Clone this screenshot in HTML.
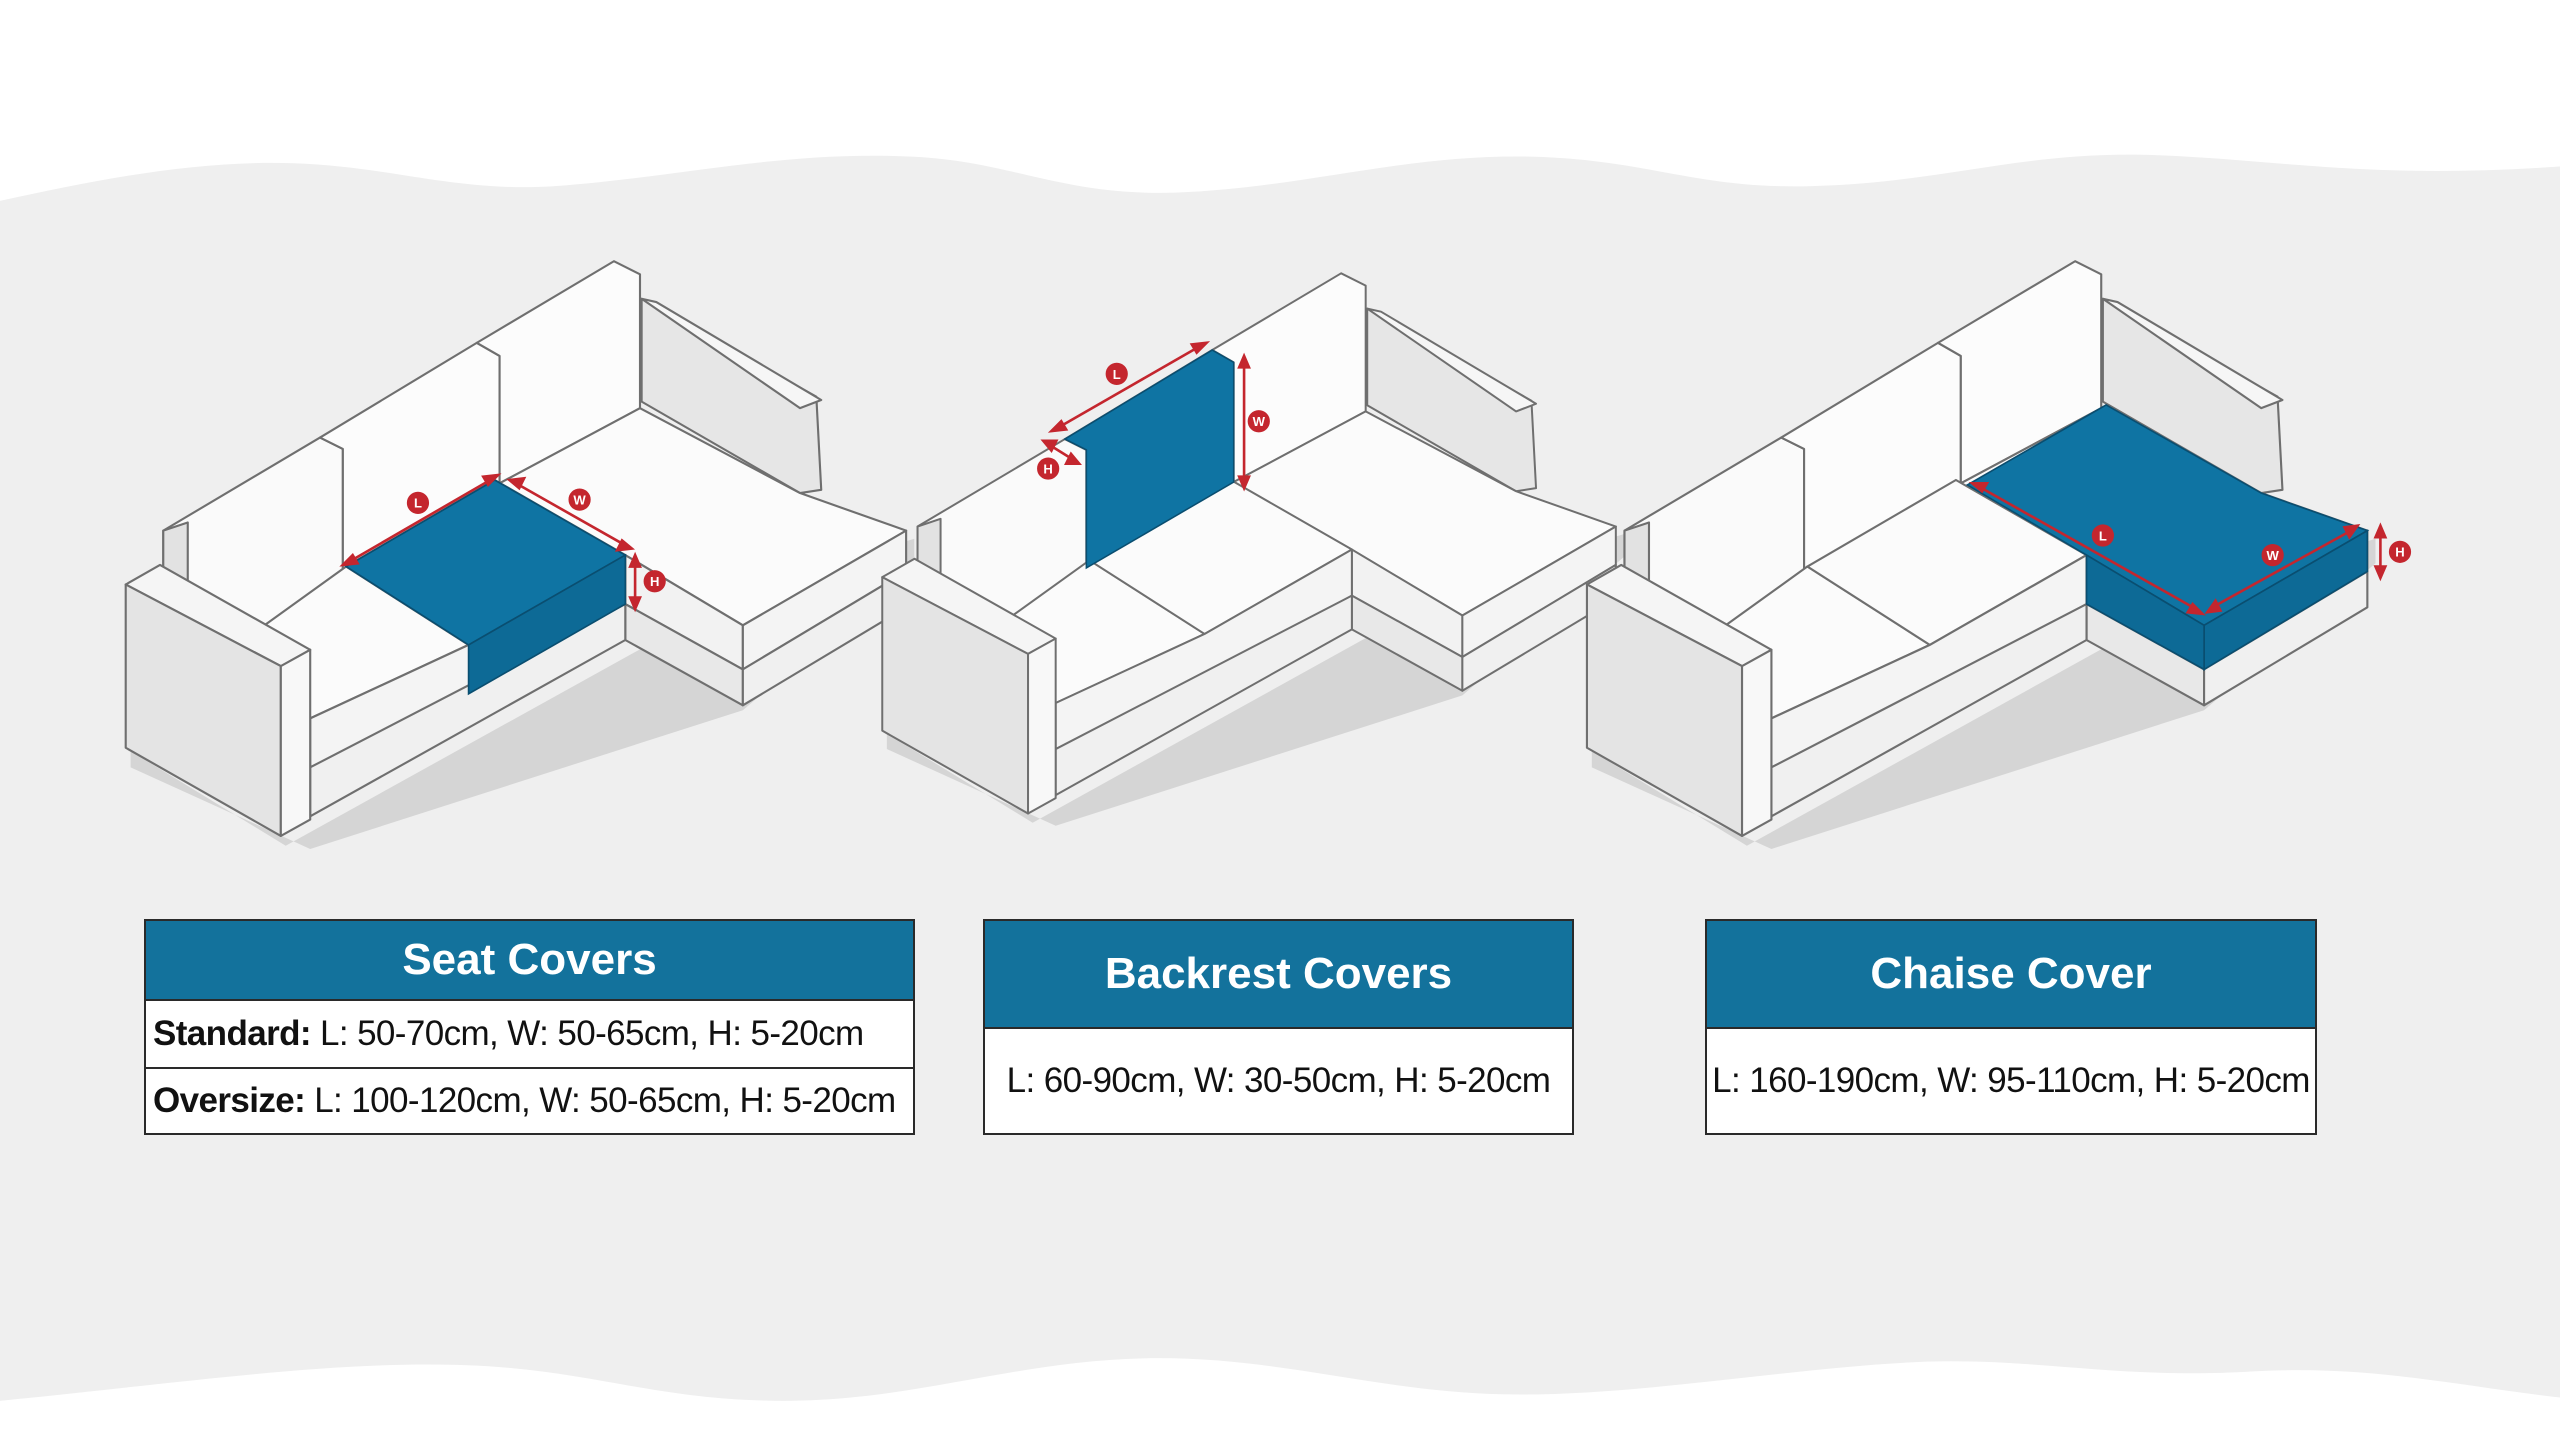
<!DOCTYPE html>
<html><head><meta charset="utf-8">
<style>
html,body{margin:0;padding:0;background:#fff;}
body{width:2560px;height:1440px;position:relative;overflow:hidden;font-family:"Liberation Sans",sans-serif;}
svg.bg{position:absolute;left:0;top:0;}
.t{position:absolute;border:2px solid #2a2a2a;background:#fff;box-sizing:border-box;}
.t .h{background:#13729c;color:#fff;font-weight:bold;font-size:44px;display:flex;align-items:center;justify-content:center;border-bottom:2px solid #2a2a2a;box-sizing:border-box;}
.t .r{font-size:35px;color:#111;display:flex;align-items:center;box-sizing:border-box;white-space:nowrap;letter-spacing:-0.6px;}
.t .r b{margin-right:9px;}
</style></head><body>
<svg class="bg" width="2560" height="1440" viewBox="0 0 1568 882">
<defs>
<g id="sofa" stroke="#6f6f6f" stroke-width="1.3" stroke-linejoin="round">
  <polygon points="80,460 175,518 460,360 560,330 560,345 455,435 190,520 80,470" fill="#d5d5d5" stroke="none"/>
  <polygon points="100,325 196,268 210,275 210,355 155,388 115,368 100,355" fill="#fafafa"/>
  <polygon points="100,325 115,320 115,365 100,355" fill="#e2e2e2"/>
  <polygon points="196,268 292,210 306,218 306,296 210,352 210,275" fill="#fcfcfc"/>
  <polygon points="292,210 376,160 392,168 392,250 306,296 306,218" fill="#fcfcfc"/>
  <polygon points="393,183 500,243 503,300 490,302 393,246" fill="#e6e6e6"/>
  <polygon points="393,183 402,185 503,245 490,250" fill="#f6f6f6"/>
  <polygon points="306,296 392,250 490,302 555,325 455,383 383,340" fill="#fbfbfb"/>
  <polygon points="383,340 455,383 455,410 383,370" fill="#f2f2f2"/>
  <polygon points="455,383 555,325 555,350 455,410" fill="#f4f4f4"/>
  <polygon points="383,370 455,410 455,432 383,392" fill="#e8e8e8"/>
  <polygon points="455,410 555,350 555,372 455,432" fill="#f0f0f0"/>
  <polygon points="155,388 212,347 287,395 190,440" fill="#fbfbfb"/>
  <polygon points="212,347 303,294 383,340 287,395" fill="#fbfbfb"/>
  <polygon points="190,440 287,395 383,340 383,370 287,425 190,470" fill="#f4f4f4"/>
  <polygon points="190,470 383,370 383,392 190,500" fill="#f0f0f0"/>
  <polygon points="77,358 98,346 190,398 172,408" fill="#f5f5f5"/>
  <polygon points="77,358 172,408 172,512 77,458" fill="#e4e4e4"/>
  <polygon points="172,408 190,398 190,502 172,512" fill="#f8f8f8"/>
</g>
</defs>
<path d="M0,123 C60,110 120,98 180,100 C240,102 280,118 340,114 C420,108 480,92 560,96 C620,99 650,120 720,118 C800,115 860,94 940,96 C1010,98 1040,116 1110,114 C1190,112 1240,92 1320,95 C1400,98 1450,110 1568,102 L1568,856 C1500,848 1450,836 1380,840 C1300,845 1250,832 1180,834 C1100,837 1000,856 920,854 C840,852 780,830 700,832 C620,834 560,858 480,858 C400,858 360,838 280,836 C200,834 120,846 0,858 Z" fill="#efefef"/>

<g>
  <use href="#sofa"/>
  <polygon points="212,347 303,294 383,340 287,395" fill="#0f74a3" stroke="#0a4e70" stroke-width="1"/>
  <polygon points="287,395 383,340 383,370 287,425" fill="#0d6a96" stroke="#0a4e70" stroke-width="1"/>
  <g stroke="#c4262e" stroke-width="1.6" fill="#c4262e">
    <line x1="214" y1="344" x2="302" y2="293"/>
    <line x1="316" y1="296" x2="383" y2="334"/>
    <line x1="389" y1="344" x2="389" y2="369"/>
    <polygon points="210,346 219,345 216,340"/><polygon points="305,291 296,292 299,297"/>
    <polygon points="312,294 321,293 318,299"/><polygon points="387,336 378,337 381,331"/>
    <polygon points="389,340 386,347 392,347"/><polygon points="389,373 386,366 392,366"/>
    <circle cx="256" cy="308" r="6"/><circle cx="355" cy="306" r="6"/><circle cx="401" cy="356" r="6"/>
  </g>
  <g fill="#fff" font-size="8" font-weight="bold" text-anchor="middle" font-family="Liberation Sans">
    <text x="256" y="311">L</text><text x="355" y="309">W</text><text x="401" y="359">H</text></g>
</g>

<g transform="translate(468,17) scale(0.94)">
  <use href="#sofa"/>
  <polygon points="196,268 292,210 306,218 306,296 210,352 210,275" fill="#0f74a3" stroke="#0a4e70" stroke-width="1"/>
</g>
<g stroke="#c4262e" stroke-width="1.6" fill="#c4262e">
  <line x1="648" y1="262" x2="735" y2="212"/>
  <line x1="762" y1="222" x2="762" y2="295"/>
  <line x1="642" y1="272" x2="658" y2="282"/>
  <polygon points="644,264 653,263 650,258"/><polygon points="739,210 730,211 733,216"/>
  <polygon points="762,218 759,225 765,225"/><polygon points="762,299 759,292 765,292"/>
  <polygon points="639,270 647,270 644,276"/><polygon points="661,284 653,284 656,278"/>
  <circle cx="684" cy="229" r="6"/><circle cx="771" cy="258" r="6"/><circle cx="642" cy="287" r="6"/>
</g>
<g fill="#fff" font-size="8" font-weight="bold" text-anchor="middle" font-family="Liberation Sans">
  <text x="684" y="232">L</text><text x="771" y="261">W</text><text x="642" y="290">H</text></g>

<g transform="translate(895,0)">
  <use href="#sofa"/>
  <polygon points="310,297 395,248 490,302 555,325 455,383 383,340" fill="#0f74a3" stroke="#0a4e70" stroke-width="1"/>
  <polygon points="455,383 555,325 555,350 455,410" fill="#0d6a96" stroke="#0a4e70" stroke-width="1"/>
  <polygon points="383,340 455,383 455,410 383,370" fill="#0d6a96" stroke="#0a4e70" stroke-width="1"/>
</g>
<g stroke="#c4262e" stroke-width="1.6" fill="#c4262e">
  <line x1="1212" y1="298" x2="1345" y2="373"/>
  <line x1="1355" y1="372" x2="1440" y2="325"/>
  <line x1="1458" y1="326" x2="1458" y2="350"/>
  <polygon points="1208,296 1217,296 1214,301"/><polygon points="1349,376 1340,375 1343,370"/>
  <polygon points="1352,375 1360,374 1357,368"/><polygon points="1444,322 1436,323 1439,329"/>
  <polygon points="1458,322 1455,329 1461,329"/><polygon points="1458,354 1455,347 1461,347"/>
  <circle cx="1288" cy="328" r="6"/><circle cx="1392" cy="340" r="6"/><circle cx="1470" cy="338" r="6"/>
</g>
<g fill="#fff" font-size="8" font-weight="bold" text-anchor="middle" font-family="Liberation Sans">
  <text x="1288" y="331">L</text><text x="1392" y="343">W</text><text x="1470" y="341">H</text></g>
</svg>

<div class="t" style="left:144px;top:919px;width:771px;height:216px;">
  <div class="h" style="height:80px;">Seat Covers</div>
  <div class="r" style="height:68px;padding-left:7px;border-bottom:2px solid #2a2a2a;"><b>Standard:</b>L: 50-70cm, W: 50-65cm, H: 5-20cm</div>
  <div class="r" style="height:64px;padding-left:7px;"><b>Oversize:</b>L: 100-120cm, W: 50-65cm, H: 5-20cm</div>
</div>
<div class="t" style="left:983px;top:919px;width:591px;height:216px;">
  <div class="h" style="height:108px;">Backrest Covers</div>
  <div class="r" style="height:104px;justify-content:center;">L: 60-90cm, W: 30-50cm, H: 5-20cm</div>
</div>
<div class="t" style="left:1705px;top:919px;width:612px;height:216px;">
  <div class="h" style="height:108px;">Chaise Cover</div>
  <div class="r" style="height:104px;justify-content:center;">L: 160-190cm, W: 95-110cm, H: 5-20cm</div>
</div>
</body></html>
